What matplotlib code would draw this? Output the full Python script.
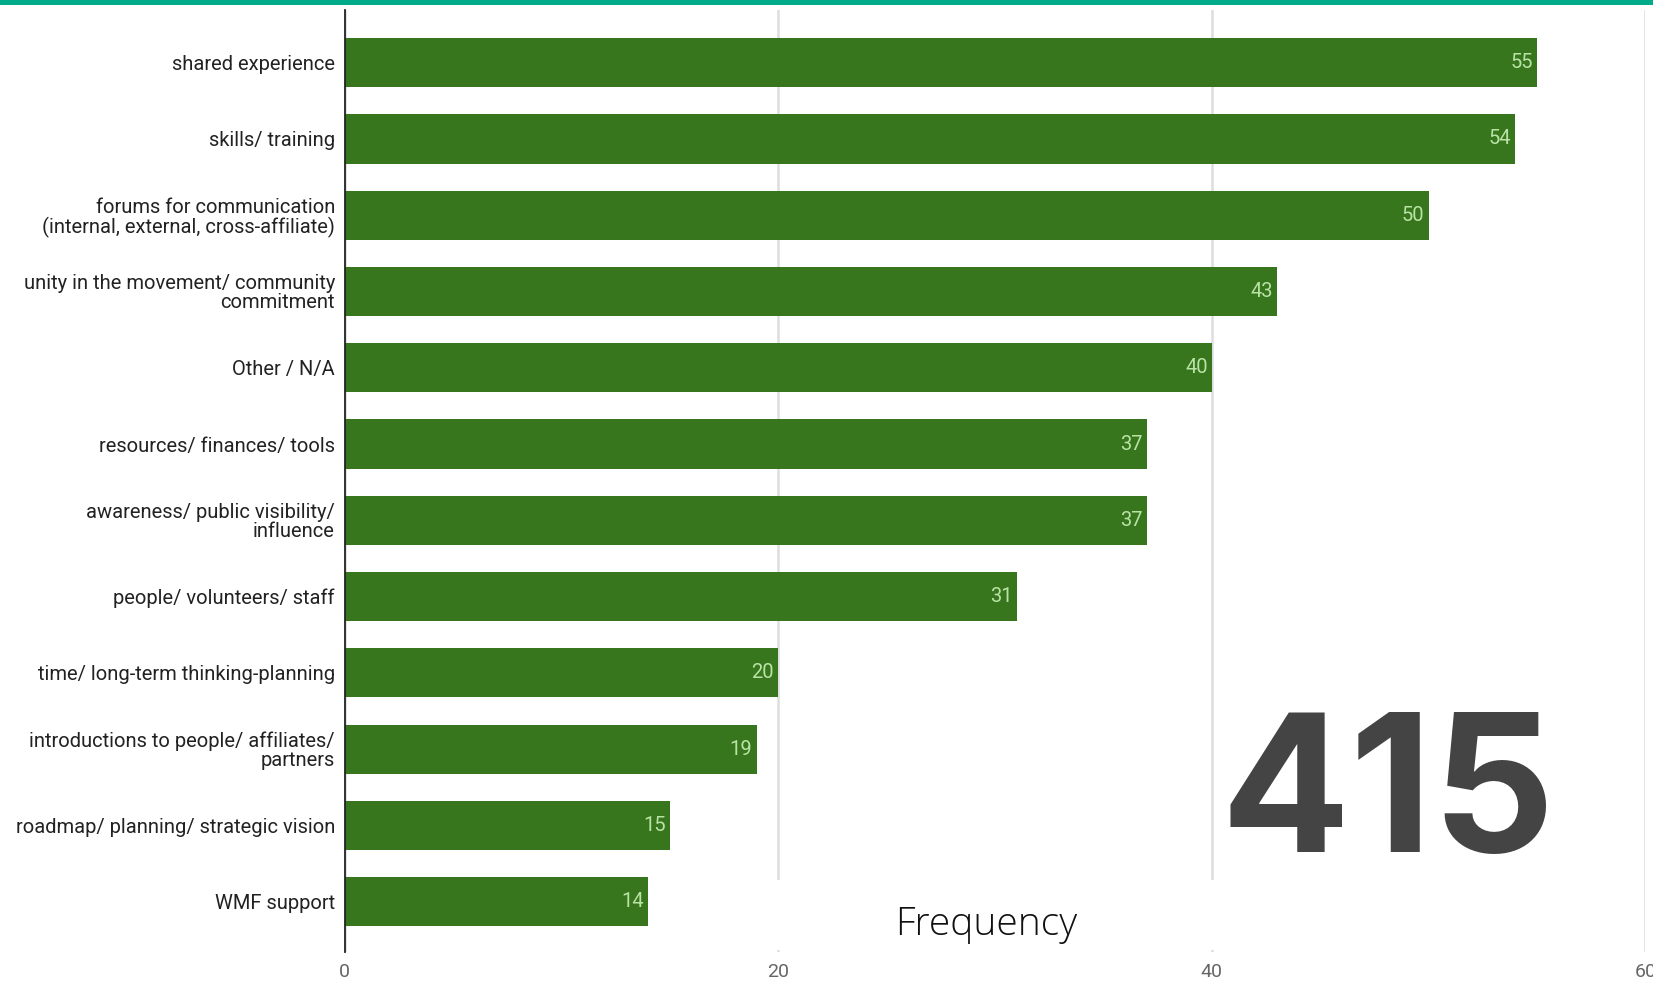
import matplotlib
matplotlib.use("Agg")
import matplotlib.pyplot as plt
from matplotlib.patches import Rectangle

categories = [
    "shared experience",
    "skills/ training",
    "forums for communication\n(internal, external, cross-affiliate)",
    "unity in the movement/ community\ncommitment",
    "Other / N/A",
    "resources/ finances/ tools",
    "awareness/ public visibility/\ninfluence",
    "people/ volunteers/ staff",
    "time/ long-term thinking-planning",
    "introductions to people/ affiliates/\npartners",
    "roadmap/ planning/ strategic vision",
    "WMF support",
]
counts = [55, 54, 50, 43, 40, 37, 37, 31, 20, 19, 15, 14]
xticks = [0, 20, 40, 60]
total_label = "415"
axis_title = "Frequency"

bar_color = "#38761d"
value_color = "#b9e3a6"

plt.rcParams["font.family"] = ["Roboto", "DejaVu Sans"]

fig = plt.figure(figsize=(16.53, 9.82), dpi=100)
ax = fig.add_axes([0.2085, 0.0305, 0.7869, 0.9593])

pos = list(range(len(categories)))
bars = ax.barh(pos, counts, height=0.645, color=bar_color, zorder=2)

for b, v in zip(bars, counts):
    ax.annotate(str(v), (b.get_width(), b.get_y() + b.get_height() / 2),
                xytext=(-3, 0), textcoords="offset points",
                ha="right", va="center", color=value_color, fontsize=14.5, zorder=3)

ax.set_xlim(0, 60)
ax.set_ylim(11.66, -0.69)
ax.set_yticks(pos)
ax.set_yticklabels(categories, fontsize=14.5, color="#222222", linespacing=1.0)
ax.set_xticks(xticks)
ax.set_xticklabels([str(t) for t in xticks], fontsize=14, color="#666666")
ax.tick_params(length=0)
ax.tick_params(axis="y", pad=7)
ax.tick_params(axis="x", pad=8)

for s in ["top", "right", "bottom"]:
    ax.spines[s].set_visible(False)
ax.spines["left"].set_color("#222222")
ax.spines["left"].set_linewidth(1.3)
ax.spines["left"].set_zorder(4)

ax.xaxis.grid(True, color="#dddddd", linewidth=1.8, zorder=0)
ax.set_axisbelow(True)

# white block behind the axis title hides the gridlines there
ax.add_patch(Rectangle((0.41, 0.033), 0.57, 0.071, transform=fig.transFigure,
                       facecolor="white", edgecolor="none", zorder=1, clip_on=False))

fig.text(0.5965, 0.058, axis_title, fontsize=28, family=["Open Sans", "DejaVu Sans"],
         fontweight="light", color="#111111", ha="center", va="center")
fig.text(0.8395, 0.184, total_label, fontsize=138, family=["Inter", "DejaVu Sans"],
         fontweight="bold", color="#444444", ha="center", va="center")

# teal strip along the top edge
fig.patches.append(Rectangle((0, 1 - 5 / 982), 1, 5 / 982, transform=fig.transFigure,
                             facecolor="#00ab8a", edgecolor="none"))

fig.savefig("out.png", dpi=100)
